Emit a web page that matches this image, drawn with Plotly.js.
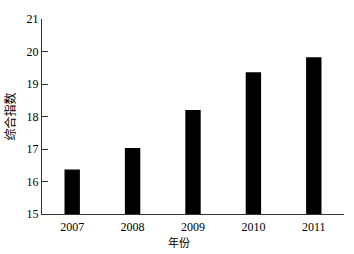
<!DOCTYPE html>
<html><head><meta charset="utf-8">
<script src="https://cdn.plot.ly/plotly-3.0.1.min.js"></script>
<style>body{margin:0;padding:0;background:#fff}#c{width:354px;height:254px}</style>
</head><body><div id="c"></div>
<script>
const years = ['2007','2008','2009','2010','2011'];
const values = [16.37, 17.03, 18.2, 19.36, 19.82];
const yTicks = [15,16,17,18,19,20,21];

Plotly.newPlot('c', [{
  type:'bar', x: years, y: values,
  marker:{color:'#000'}, hoverinfo:'none'
}], {
  width:354, height:254,
  margin:{l:42, r:10, t:19, b:40},
  paper_bgcolor:'#fff', plot_bgcolor:'#fff',
  bargap:0.745,
  showlegend:false,
  font:{family:'Liberation Serif, serif', color:'#000', size:11},
  xaxis:{
    type:'category', showline:true, linecolor:'#333', linewidth:1,
    ticks:'', showgrid:false, zeroline:false, ticklabelstandoff:2,
    tickfont:{family:'Liberation Serif, serif', size:12}
  },
  yaxis:{
    range:[15,21], tickvals:yTicks, showline:true, linecolor:'#333', linewidth:1,
    ticks:'inside', ticklen:6, tickcolor:'#333', showgrid:false, zeroline:false,
    tickfont:{family:'Liberation Serif, serif', size:12},
    title:{text:'综合指数', font:{family:'Noto Sans CJK SC', size:12}, standoff:8}
  },
  annotations:[{
    text:'年份', xref:'paper', yref:'paper', x:0.452, y:-0.146,
    xanchor:'center', yanchor:'middle', showarrow:false,
    font:{family:'Noto Sans CJK SC', size:11, color:'#000'}
  }]
}, {staticPlot:true});
</script></body></html>
